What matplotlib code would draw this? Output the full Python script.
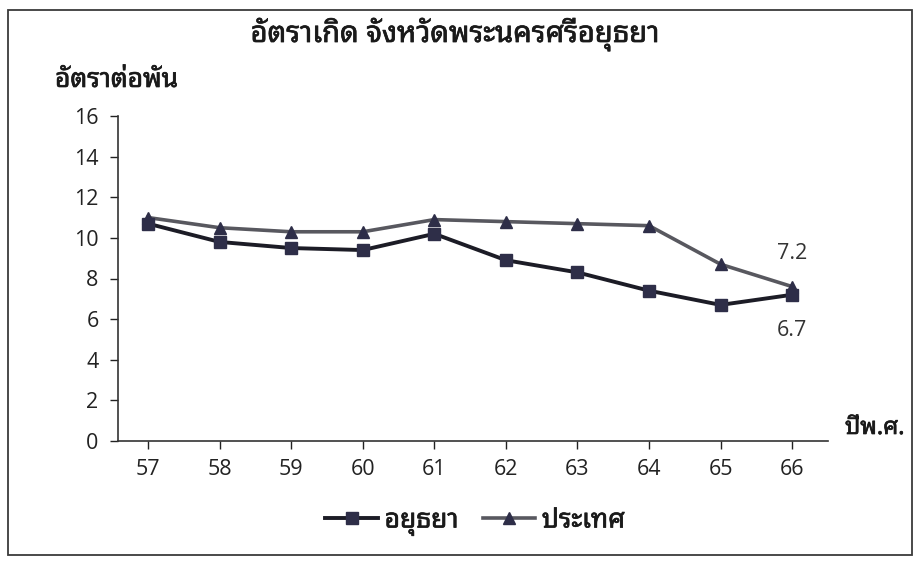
import matplotlib
matplotlib.use("Agg")
import matplotlib.pyplot as plt
import matplotlib.patheffects as pe
from matplotlib import font_manager, ft2font
from matplotlib.lines import Line2D
from matplotlib.patches import Rectangle

# Birth rate per 1,000 population, Buddhist-era years 2557-2566
years = ["57", "58", "59", "60", "61", "62", "63", "64", "65", "66"]
ayutthaya = [10.7, 9.8, 9.5, 9.4, 10.2, 8.9, 8.3, 7.4, 6.7, 7.2]
country = [11.0, 10.5, 10.3, 10.3, 10.9, 10.8, 10.7, 10.6, 8.7, 7.6]
y_ticks = [0, 2, 4, 6, 8, 10, 12, 14, 16]

title = "อัตราเกิด จังหวัดพระนครศรีอยุธยา"
y_title = "อัตราต่อพัน"
x_title = "ปีพ.ศ."
names = ["อยุธยา", "ประเทศ"]


def thai_families():
    """Return installed font families that contain Thai glyphs."""
    found = []
    for f in font_manager.fontManager.ttflist:
        try:
            cm = ft2font.FT2Font(f.fname).get_charmap()
        except Exception:
            continue
        if ord("ก") in cm and f.name not in found:
            found.append(f.name)
    return found


thai = thai_families()
preferred = [n for n in ["Noto Sans Thai Looped", "Noto Sans Thai", "Noto Sans Thai UI",
                         "Loma", "Garuda", "Tlwg Typist", "Sarabun", "Kinnari",
                         "Norasi"] if n in thai]
thai_font = (preferred or thai)[:1] + ["Open Sans", "DejaVu Sans"]
num_font = ["Open Sans", "DejaVu Sans"]
plt.rcParams["font.family"] = num_font

bold = [pe.withStroke(linewidth=0.5, foreground="#1a1a1a")]

fig = plt.figure(figsize=(9.18, 5.62), dpi=100)
ax = fig.add_axes([118 / 918, 1 - 441 / 562, (828 - 118) / 918, (441 - 116) / 562])

x = list(range(len(years)))
ax.plot(x, country, color="#58585f", lw=2.6, marker="^", ms=8,
        mfc="#2e2e48", mec="#2e2e48", zorder=3)
ax.plot(x, ayutthaya, color="#1c1c26", lw=2.8, marker="s", ms=8.5,
        mfc="#2e2e48", mec="#2e2e48", zorder=4)

ax.set_xlim(-0.42, len(years) - 0.5)
ax.set_ylim(0, 16)
ax.set_yticks(y_ticks)
ax.set_yticklabels([str(v) for v in y_ticks])
ax.set_xticks(x)
ax.set_xticklabels(years)
ax.tick_params(axis="both", labelsize=15.5, colors="#222222", direction="out",
               length=6, width=1.0)
ax.tick_params(axis="y", pad=8)
ax.tick_params(axis="x", pad=7)
for s in ["top", "right"]:
    ax.spines[s].set_visible(False)
for s in ["left", "bottom"]:
    ax.spines[s].set_color("#333333")
    ax.spines[s].set_linewidth(1.2)

# value labels at the last year
ax.annotate(f"{ayutthaya[-1]}", xy=(x[-1], ayutthaya[-1]), xytext=(0, 30),
            textcoords="offset points", ha="center", va="center",
            fontsize=15.5, color="#333333")
ax.annotate(f"{ayutthaya[-2]}", xy=(x[-1], ayutthaya[-1]), xytext=(0, -26),
            textcoords="offset points", ha="center", va="center",
            fontsize=15.5, color="#333333")

fig.text(455 / 918, 1 - 34 / 562, title, ha="center", va="center",
         fontsize=21, color="#1a1a1a", family=thai_font, path_effects=bold)
fig.text(55 / 918, 1 - 80 / 562, y_title, ha="left", va="center",
         fontsize=19, color="#1a1a1a", family=thai_font, path_effects=bold)
fig.text(845 / 918, 1 - 428 / 562, x_title, ha="left", va="center",
         fontsize=17, color="#1a1a1a", family=thai_font, path_effects=bold)

handles = [
    Line2D([], [], color="#1c1c26", lw=2.8, marker="s", ms=8.5,
           mfc="#2e2e48", mec="#2e2e48"),
    Line2D([], [], color="#58585f", lw=2.6, marker="^", ms=8,
           mfc="#2e2e48", mec="#2e2e48"),
]
leg = fig.legend(handles, names, loc="center", bbox_to_anchor=(475 / 918, 1 - 521 / 562),
                 ncol=2, frameon=False, handlelength=2.0,
                 handletextpad=0.25, columnspacing=0.9,
                 prop=font_manager.FontProperties(family=thai_font, size=19))
for t in leg.get_texts():
    t.set_color("#1a1a1a")
    t.set_path_effects(bold)

# outer frame of the chart area
fig.patches.append(Rectangle((8 / 918, 1 - 555 / 562), (912 - 8) / 918, (555 - 10) / 562,
                             transform=fig.transFigure, fill=False,
                             edgecolor="#3a3a3a", lw=1.3))

fig.savefig("out.png", dpi=100)
